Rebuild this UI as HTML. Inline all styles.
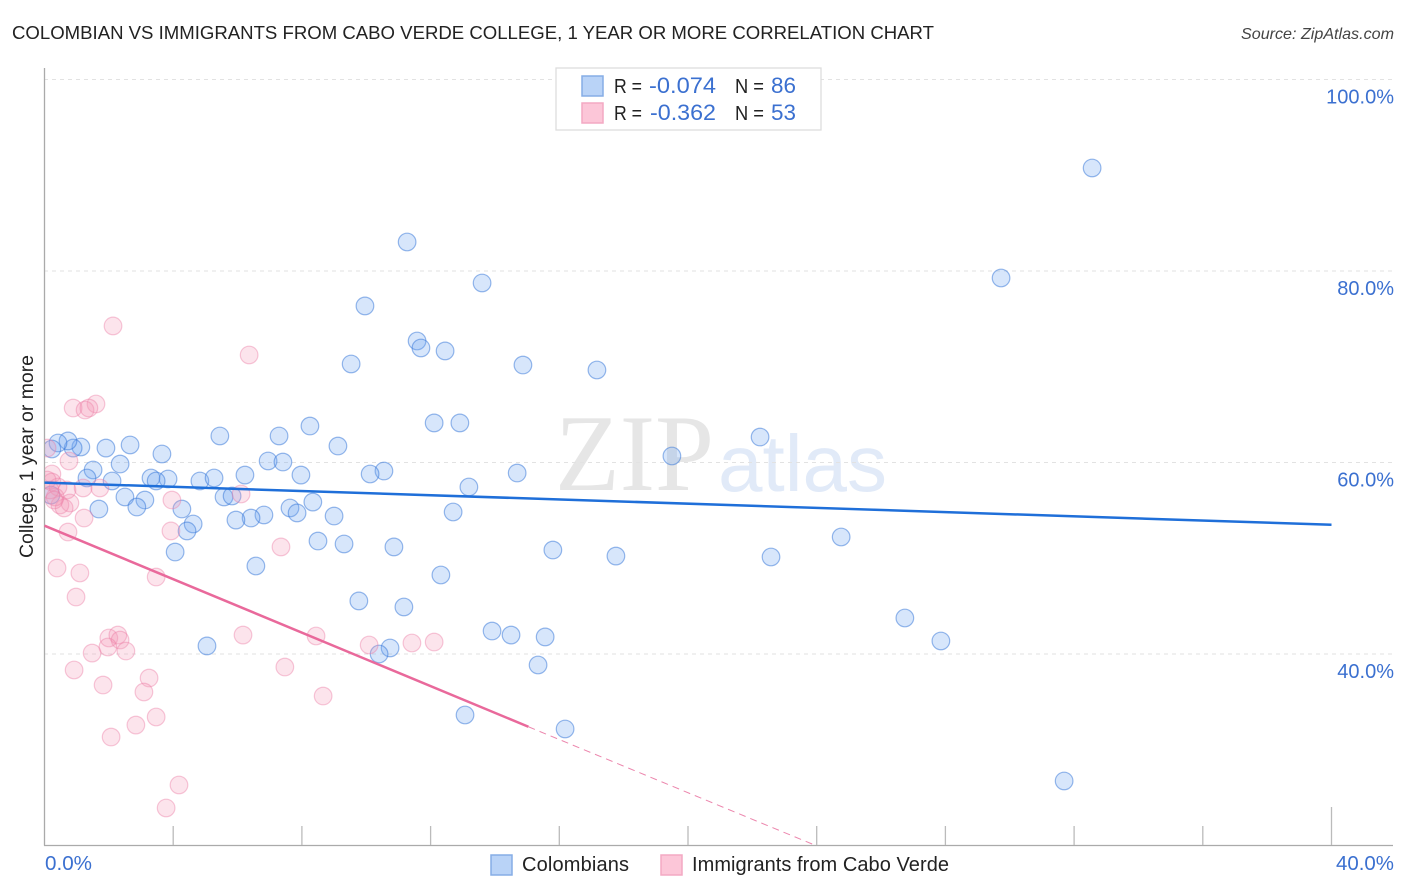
<!DOCTYPE html>
<html lang="en">
<head>
<meta charset="utf-8">
<title>Colombian vs Immigrants from Cabo Verde College Correlation Chart</title>
<style>
html,body{margin:0;padding:0;background:#fff;width:1406px;height:892px;overflow:hidden}
svg{display:block}
text{font-family:"Liberation Sans",sans-serif}
</style>
</head>
<body>
<svg id="chart" xmlns="http://www.w3.org/2000/svg" width="1406" height="892" viewBox="0 0 1406 892">
  <defs><clipPath id="plot-clip"><rect x="45" y="60" width="1350" height="785"></rect></clipPath></defs>
  <rect x="0" y="0" width="1406" height="892" fill="#fff"></rect>
  <text x="12" y="39" font-size="18.5" fill="#222" textLength="922" lengthAdjust="spacingAndGlyphs">COLOMBIAN VS IMMIGRANTS FROM CABO VERDE COLLEGE, 1 YEAR OR MORE CORRELATION CHART</text>
  <text x="1394" y="39" font-size="16" font-style="italic" fill="#444" text-anchor="end" textLength="153" lengthAdjust="spacingAndGlyphs">Source: ZipAtlas.com</text>
  <text x="555" y="490" font-size="109" fill="#e6e6e6" textLength="159" lengthAdjust="spacingAndGlyphs" style="font-family:'Liberation Serif',serif">ZIP</text>
  <text x="718" y="491" font-size="80" fill="#e1eaf8" textLength="169" lengthAdjust="spacingAndGlyphs">atlas</text>
  <g id="grid-layer"></g>
  <g id="axis-layer"></g>
  <g id="points-layer" clip-path="url(#plot-clip)"></g>
  <g id="trend-layer"></g>
  <text transform="translate(33,456.5) rotate(-90)" font-size="19" fill="#222" text-anchor="middle" textLength="203" lengthAdjust="spacingAndGlyphs">College, 1 year or more</text>
  <g>
    <rect x="556" y="68" width="265" height="62" fill="#fff" stroke="#ddd" stroke-width="1.3"></rect>
    <rect x="582" y="76" width="21" height="20" fill="#b9d3f7" stroke="#86ade6" stroke-width="1.5"></rect>
    <rect x="582" y="103" width="21" height="20" fill="#fcc6d8" stroke="#f3a9c3" stroke-width="1.5"></rect>
    <text x="614" y="93" font-size="20" fill="#222" textLength="28" lengthAdjust="spacingAndGlyphs">R =</text>
    <text x="649" y="93" font-size="22" fill="#3b70d0" textLength="67" lengthAdjust="spacingAndGlyphs">-0.074</text>
    <text x="735" y="93" font-size="20" fill="#222" textLength="29" lengthAdjust="spacingAndGlyphs">N =</text>
    <text x="771" y="93" font-size="22" fill="#3b70d0" textLength="25" lengthAdjust="spacingAndGlyphs">86</text>
    <text x="614" y="120" font-size="20" fill="#222" textLength="28" lengthAdjust="spacingAndGlyphs">R =</text>
    <text x="650" y="120" font-size="22" fill="#3b70d0" textLength="66" lengthAdjust="spacingAndGlyphs">-0.362</text>
    <text x="735" y="120" font-size="20" fill="#222" textLength="29" lengthAdjust="spacingAndGlyphs">N =</text>
    <text x="771" y="120" font-size="22" fill="#3b70d0" textLength="25" lengthAdjust="spacingAndGlyphs">53</text>
  </g>
  <g>
    <rect x="491" y="855" width="21" height="20" fill="#b9d3f7" stroke="#86ade6" stroke-width="1.5"></rect>
    <text x="522" y="871" font-size="20" fill="#222" textLength="107">Colombians</text>
    <rect x="661" y="855" width="21" height="20" fill="#fcc6d8" stroke="#f3a9c3" stroke-width="1.5"></rect>
    <text x="692" y="871" font-size="20" fill="#222" textLength="257">Immigrants from Cabo Verde</text>
  </g>
</svg>
<script>
const xTickValues = [0,4,8,12,16,20,24,28,32,36,40];
const xTickLabels = ["0.0%","40.0%"];
const yTickValues = [100,80,60,40];
const yTickLabels = ["100.0%","80.0%","60.0%","40.0%"];

const colombiansX = [32.56,11.27,29.73,13.60,9.96,11.58,11.70,12.45,9.53,14.87,17.17,12.11,12.91,8.25,5.45,7.29,22.24,9.12,2.66,1.91,1.13,0.89,0.73,0.42,0.23,3.65,19.50,6.95,7.41,2.35,1.51,10.55,10.12,14.69,7.97,6.23,1.32,2.10,3.31,3.84,4.83,5.27,3.47,13.19,3.12,2.50,5.58,5.83,8.34,7.63,7.85,2.87,1.69,4.27,6.82,9.00,12.70,6.42,5.95,4.62,4.43,8.50,9.31,10.86,4.06,15.80,17.76,22.58,24.76,6.57,12.32,9.77,11.17,26.74,13.91,14.50,15.56,27.86,5.05,10.74,10.40,15.34,13.07,16.18,31.69,0.20];
const colombiansY = [90.76,83.03,79.27,78.75,76.35,72.69,71.96,71.65,70.29,70.18,69.66,64.13,64.13,63.81,62.77,62.77,62.66,61.72,61.83,61.51,61.62,61.51,62.25,62.04,61.41,60.89,60.68,60.16,60.05,59.84,59.22,59.11,58.80,58.90,58.69,58.69,58.38,58.07,58.38,58.28,58.07,58.38,58.07,57.44,56.08,56.40,56.40,56.50,55.87,55.25,54.73,55.35,55.14,55.14,54.52,54.41,54.83,54.20,53.99,53.58,52.85,51.80,51.49,51.18,50.65,50.86,50.23,50.13,52.22,49.19,48.25,45.54,44.91,43.76,42.40,41.98,41.78,41.36,40.84,40.63,40.00,38.85,33.63,32.17,26.74,56.60];

const caboVerdeX = [2.13,6.36,1.60,0.89,1.26,1.38,0.08,0.76,0.23,0.23,0.42,0.70,1.20,1.72,6.11,3.96,0.79,0.48,0.61,0.33,1.23,0.73,3.93,7.35,0.39,1.10,3.47,0.98,2.00,2.28,2.35,1.97,2.53,1.48,6.17,8.44,10.09,11.42,12.11,0.92,7.47,1.82,3.25,3.09,8.66,2.84,3.47,2.07,4.18,3.78,0.08,0.17,0.30];
const caboVerdeY = [74.26,71.23,66.11,65.69,65.48,65.69,61.51,60.16,58.80,57.96,57.44,57.13,57.34,57.34,56.71,56.08,55.77,55.56,55.25,56.40,54.20,52.74,52.85,51.18,48.98,48.46,48.04,45.95,41.67,41.98,41.46,40.73,40.31,40.10,41.98,41.88,40.94,41.15,41.25,38.33,38.64,36.76,37.49,36.03,35.61,32.58,33.42,31.33,26.32,23.92,58.17,57.13,56.08];

const colombiansTrendX = [0,40];
const colombiansTrendY = [57.9,53.5];
const caboVerdeTrendX = [0,15.04];
const caboVerdeTrendY = [53.4,32.4];
const caboVerdeDashX = [15.04,23.97];
const caboVerdeDashY = [32.4,20];

const SVG_NS = "http://www.w3.org/2000/svg";
function xScale(v){ return 44.5 + v * 32.175; }
function yScale(v){ return 654 - (v - 40) * 9.575; }
function make(tag, parent, attrs){
  const el = document.createElementNS(SVG_NS, tag);
  for (const k in attrs) el.setAttribute(k, attrs[k]);
  parent.appendChild(el);
  return el;
}

const gridLayer = document.getElementById("grid-layer");
yTickValues.forEach(function(v){
  const line = make("line", gridLayer, {x1:44, x2:1393, y1:yScale(v), y2:yScale(v), stroke:"#e2e2e2", "stroke-width":1, "stroke-dasharray":"4 4"});
  
  
});

const axisLayer = document.getElementById("axis-layer");
const yAxis = make("line", axisLayer, {x1:44.5, x2:44.5, y1:68, y2:845.5, stroke:"#aaa", "stroke-width":1.3});


const xAxis = make("line", axisLayer, {x1:44, x2:1393, y1:845.5, y2:845.5, stroke:"#aaa", "stroke-width":1.3});


xTickValues.forEach(function(v){
  if (v === 0) return;
  const isLast = v === xTickValues[xTickValues.length - 1];
  const tick = make("line", axisLayer, {x1:xScale(v), x2:xScale(v), y1:isLast ? 807 : 826, y2:845, stroke:"#bbb", "stroke-width":1.3});
  
  
});
const xLabelLeft = make("text", axisLayer, {x:45, y:870, "font-size":20, fill:"#3b70d0", textLength:47, lengthAdjust:"spacingAndGlyphs"});
xLabelLeft.textContent = xTickLabels[0];


const xLabelRight = make("text", axisLayer, {x:1394, y:870, "font-size":20, fill:"#3b70d0", "text-anchor":"end", textLength:58, lengthAdjust:"spacingAndGlyphs"});
xLabelRight.textContent = xTickLabels[1];


yTickValues.forEach(function(v, i){
  const label = make("text", axisLayer, {x:1394, y:yScale(v) + 24, "font-size":20, fill:"#3b70d0", "text-anchor":"end"});
  label.textContent = yTickLabels[i];
  
  
});

const pointsLayer = document.getElementById("points-layer");
colombiansX.forEach(function(v, i){
  const dot = make("circle", pointsLayer, {cx:xScale(v), cy:yScale(colombiansY[i]), r:8.8, fill:"rgba(110,165,240,0.28)", stroke:"rgba(50,115,215,0.5)", "stroke-width":1.2});
  
  
});
caboVerdeX.forEach(function(v, i){
  const dot = make("circle", pointsLayer, {cx:xScale(v), cy:yScale(caboVerdeY[i]), r:8.8, fill:"rgba(245,150,180,0.26)", stroke:"rgba(235,125,165,0.42)", "stroke-width":1.2});
  
  
});

const trendLayer = document.getElementById("trend-layer");
const blueTrend = make("line", trendLayer, {x1:xScale(colombiansTrendX[0]), y1:yScale(colombiansTrendY[0]), x2:xScale(colombiansTrendX[1]), y2:yScale(colombiansTrendY[1]), stroke:"#1f6fd9", "stroke-width":2.5});


const pinkTrend = make("line", trendLayer, {x1:xScale(caboVerdeTrendX[0]), y1:yScale(caboVerdeTrendY[0]), x2:xScale(caboVerdeTrendX[1]), y2:yScale(caboVerdeTrendY[1]), stroke:"#e9699b", "stroke-width":2.5});


const pinkDash = make("line", trendLayer, {x1:xScale(caboVerdeDashX[0]), y1:yScale(caboVerdeDashY[0]), x2:xScale(caboVerdeDashX[1]), y2:yScale(caboVerdeDashY[1]), stroke:"#ec86ad", "stroke-width":1, "stroke-dasharray":"7 5"});


</script>
</body>
</html>
